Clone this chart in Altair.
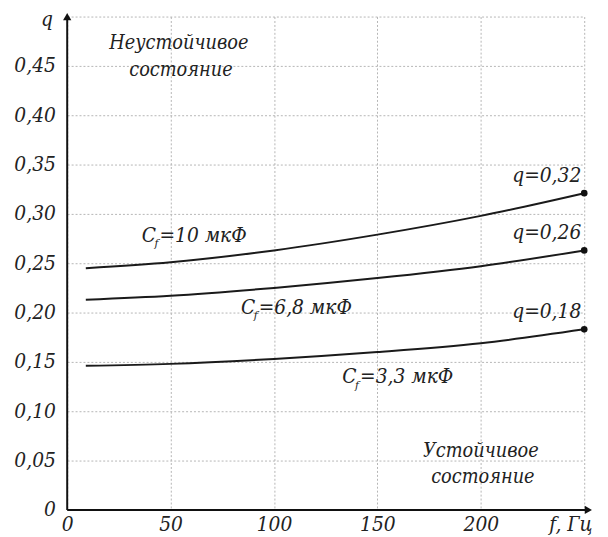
import altair as alt
import pandas as pd

# ---- data ----
freq = [9, 50, 100, 150, 200, 250]
q_10 = [0.245, 0.251, 0.263, 0.279, 0.298, 0.321]
q_68 = [0.213, 0.217, 0.225, 0.235, 0.247, 0.263]
q_33 = [0.146, 0.148, 0.153, 0.160, 0.169, 0.183]
series_names = ["10", "6,8", "3,3"]

x_ticks = [0, 50, 100, 150, 200, 250]
y_ticks = [0, 0.05, 0.10, 0.15, 0.20, 0.25, 0.30, 0.35, 0.40, 0.45, 0.50]

end_labels = ["q=0,32", "q=0,26", "q=0,18"]
end_label_q = [0.338, 0.281, 0.200]

cap_labels = ["=10 мкФ", "=6,8 мкФ", "=3,3 мкФ"]
cap_f = [36, 84, 133]
cap_q = [0.278, 0.205, 0.135]

region_texts = ["Неустойчивое", "состояние", "Устойчивое", "состояние"]
region_f = [54, 55, 200, 201]
region_q = [0.473, 0.446, 0.060, 0.033]

FONT = "DejaVu Serif Condensed"

rows = []
for name, vals in zip(series_names, [q_10, q_68, q_33]):
    for f, q in zip(freq, vals):
        rows.append({"s": name, "f": f, "q": q})
curves = pd.DataFrame(rows)

ends = pd.DataFrame({"s": series_names,
                     "f": [freq[-1]] * 3,
                     "q": [q_10[-1], q_68[-1], q_33[-1]],
                     "lab": end_labels, "lq": end_label_q})
caps = pd.DataFrame({"f": cap_f, "q": cap_q, "lab": cap_labels})
regions = pd.DataFrame({"f": region_f, "q": region_q, "lab": region_texts})

xscale = alt.Scale(domain=[0, 250], nice=False, zero=False)
yscale = alt.Scale(domain=[0, 0.5], nice=False, zero=False)

xaxis = alt.Axis(values=x_ticks, grid=True, gridColor="#b5b5b5", gridDash=[2, 2],
                 gridWidth=1, domain=False, ticks=False,
                 labelExpr="datum.value == 250 ? '' : format(datum.value, 'd')",
                 labelFont=FONT, labelFontStyle="italic", labelFontSize=21,
                 labelColor="#222", labelPadding=4, labelBaseline="top",
                 labelFlush=False,
                 title="f, Гц", titleFont=FONT, titleFontStyle="italic",
                 titleFontWeight="normal", titleFontSize=21, titleColor="#222",
                 titleX=510, titleY=4, titleBaseline="top", titleAlign="center")
yaxis = alt.Axis(values=y_ticks, grid=True, gridColor="#b5b5b5", gridDash=[2, 2],
                 gridWidth=1, domain=False, ticks=False,
                 labelExpr="datum.value == 0 ? '0' : (datum.value > 0.49 ? '' : replace(format(datum.value, '.2f'), '.', ','))",
                 labelFont=FONT, labelFontStyle="italic", labelFontSize=21,
                 labelColor="#222", labelPadding=12, labelFlush=False,
                 title="q", titleFont=FONT, titleFontStyle="italic",
                 titleFontWeight="normal", titleFontSize=21, titleColor="#222",
                 titleAngle=0, titleX=-21, titleY=3, titleAlign="center",
                 titleBaseline="middle")


def X(field="f"):
    return alt.X(f"{field}:Q", scale=xscale, axis=xaxis)


def Y(field="q"):
    return alt.Y(f"{field}:Q", scale=yscale, axis=yaxis)


lines = alt.Chart(curves).mark_line(color="#1a1a1a", strokeWidth=2,
                                    interpolate="monotone").encode(
    x=X(), y=Y(), detail="s:N")

dots = alt.Chart(ends).mark_circle(color="#111", opacity=1, size=45).encode(
    x=X(), y=Y())

end_text = alt.Chart(ends).mark_text(font=FONT, fontStyle="italic", fontSize=21,
                                     align="right", baseline="middle", dx=-3,
                                     color="#222").encode(
    x=X(), y=Y("lq"), text="lab:N")

cap_c = alt.Chart(caps).mark_text(font=FONT, fontStyle="italic", fontSize=21,
                                  align="left", baseline="middle",
                                  color="#222").encode(
    x=X(), y=Y(), text=alt.value("C"))
cap_sub = alt.Chart(caps).mark_text(font=FONT, fontStyle="italic", fontSize=12,
                                    align="left", baseline="middle", dx=13, dy=8,
                                    color="#222").encode(
    x=X(), y=Y(), text=alt.value("f"))
cap_rest = alt.Chart(caps).mark_text(font=FONT, fontStyle="italic", fontSize=21,
                                     align="left", baseline="middle", dx=18,
                                     color="#222").encode(
    x=X(), y=Y(), text="lab:N")

region_text = alt.Chart(regions).mark_text(font=FONT, fontStyle="italic",
                                           fontSize=20, align="center",
                                           baseline="middle",
                                           color="#222").encode(
    x=X(), y=Y(), text="lab:N")

axes_df = pd.DataFrame({"f": [0], "q": [0], "f2": [252], "q2": [0.5]})
yline = alt.Chart(axes_df).mark_rule(color="#111", strokeWidth=2).encode(
    x=X(), y=Y(), y2="q2:Q")
xline = alt.Chart(axes_df).mark_rule(color="#111", strokeWidth=2).encode(
    x=X(), x2="f2:Q", y=Y())
yarrow = alt.Chart(axes_df).mark_point(shape="triangle-up", filled=True,
                                       color="#111", opacity=1, size=70).encode(
    x=X(), y=Y("q2"))
xarrow = alt.Chart(axes_df).mark_point(shape="triangle-right", filled=True,
                                       color="#111", opacity=1, size=70).encode(
    x=X("f2"), y=Y())

chart = alt.layer(lines, region_text, cap_c, cap_sub, cap_rest, end_text,
                  dots, yline, xline, yarrow, xarrow).properties(
    width=524, height=500,
    autosize=alt.AutoSizeParams(type="none"),
    padding={"left": 60, "top": 5, "right": 16, "bottom": 40},
).configure_view(stroke=None)

chart.save("out.html", embed_options={"renderer": "svg", "actions": False})
